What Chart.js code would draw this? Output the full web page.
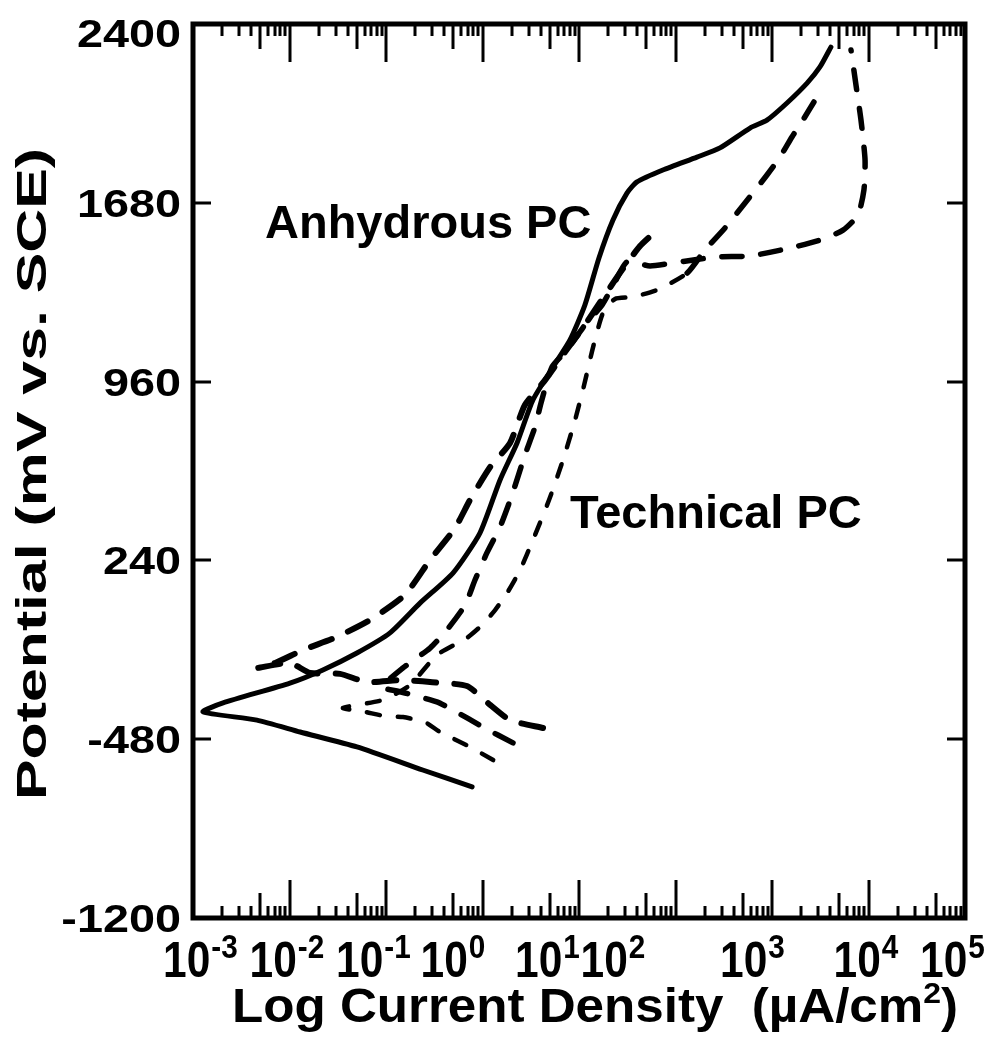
<!DOCTYPE html>
<html>
<head>
<meta charset="UTF-8">
<title>Anhydrous vs Technical PC polarization</title>
<script src="https://cdn.jsdelivr.net/npm/chart.js@4.4.1/dist/chart.umd.min.js"></script>
<style>
body { margin:0; background:#fff; }
#wrap { width:1008px; height:1043px; }
</style>
</head>
<body>
<div id="wrap"><canvas id="canvas" width="1008" height="1043"></canvas></div>
<script>
// current density (uA/cm2) and potential (mV vs SCE)
// each curve runs from the cathodic end, through the rest potential, up the anodic branch
var anhydrousI = [0.78, 0.24, 0.05, 0.0129, 0.0046, 0.00127, 0.00205, 0.0101, 0.0222, 0.05, 0.11, 0.225, 0.494, 0.94, 1.52, 2.28, 3.33, 5.38, 8.07, 11.5, 16.1, 22.5, 31.4, 39.9, 74, 167, 289, 592, 887, 1430, 2310, 3140, 4080];
var anhydrousE = [-672, -604, -511, -451, -403, -370, -334, -254, -201, -133, -52, 68, 189, 350, 564, 713, 886, 1019, 1128, 1268, 1458, 1611, 1719, 1764, 1812, 1864, 1901, 1981, 2013, 2082, 2162, 2227, 2307];

var techAI = [4.24, 1.93, 1.20, 0.69, 0.286, 0.14, 0.0635, 0.0334, 0.0163, 0.0101, 0.0047, 0.0071, 0.0138, 0.031, 0.0683, 0.157, 0.286, 0.519, 0.741, 1.20, 1.93, 2.75, 4.45, 7.16, 11.5, 18.6, 27.9, 42.9, 64.3];
var techAE = [-435, -403, -342, -266, -250, -242, -250, -217, -213, -173, -193, -173, -121, -68, 0, 101, 242, 370, 483, 616, 713, 866, 966, 1079, 1188, 1309, 1409, 1506, 1570];

var techBI = [2.07, 1.01, 0.494, 0.337, 0.19, 0.13, 0.091, 0.15, 0.286, 0.428, 0.659, 0.836, 1.11, 1.52, 2.02, 2.75, 3.50, 4.04, 5.25, 7.51, 11.5, 17.3, 23.6, 31.4, 54.5, 111, 269, 592, 1540, 3140, 5440, 7780, 8970, 9210, 8360, 7420, 6590];
var techBE = [-495, -431, -362, -330, -302, -286, -270, -193, -113, -40, 60, 161, 270, 375, 503, 664, 777, 874, 1019, 1087, 1188, 1268, 1361, 1442, 1426, 1442, 1462, 1466, 1498, 1530, 1570, 1631, 1732, 1852, 2013, 2154, 2295];

var techCI = [1.29, 0.741, 0.363, 0.253, 0.15, 0.0977, 0.0605, 0.0358, 0.093, 0.177, 0.337, 0.69, 0.99, 1.35, 1.80, 2.45, 3.33, 4.89, 6.82, 9.1, 11.3, 14.0, 17.7, 23.6, 36.3, 64.3, 132, 202, 326, 525, 887, 1210, 1610, 2090, 2720];
var techCE = [-564, -511, -451, -411, -391, -387, -370, -354, -322, -262, -141, -72, -20, 40, 109, 201, 322, 483, 644, 805, 946, 1099, 1236, 1293, 1301, 1329, 1397, 1490, 1579, 1679, 1792, 1864, 1945, 2013, 2086];

var xExponents = [-3, -2, -1, 0, 1, 2, 3, 4, 5];
var yTicks = [-1200, -480, 240, 960, 1680, 2400];

var FONT = "'Liberation Sans', Arial, Helvetica, sans-serif";

function pts(xs, ys) {
    return xs.map(function (x, i) { return { x: x, y: ys[i] }; });
}

function stretchText(ctx, txt, x, y, size, sx, align) {
    ctx.save();
    ctx.font = 'bold ' + size + 'px ' + FONT;
    ctx.textAlign = align || 'left';
    ctx.textBaseline = 'alphabetic';
    ctx.translate(x, y);
    ctx.scale(sx, 1);
    ctx.fillText(txt, 0, 0);
    ctx.restore();
}

var frame = {
    id: 'frame',
    afterDatasetsDraw: function (chart) {
        var ctx = chart.ctx, a = chart.chartArea;
        var xs = chart.scales.x, ys = chart.scales.y;
        ctx.save();
        ctx.strokeStyle = '#000';
        ctx.lineCap = 'butt';

        // log ticks, top and bottom, pointing in
        ctx.lineWidth = 3;
        for (var e = xExponents[0]; e < xExponents[xExponents.length - 1]; e++) {
            for (var m = 1; m <= 9; m++) {
                var px = Math.round(xs.getPixelForValue(m * Math.pow(10, e)));
                var len = m == 1 ? 38 : (m == 5 ? 25 : 12);
                ctx.beginPath();
                ctx.moveTo(px, a.top); ctx.lineTo(px, a.top + len);
                ctx.moveTo(px, a.bottom); ctx.lineTo(px, a.bottom - len);
                ctx.stroke();
            }
        }
        // potential ticks both sides
        yTicks.forEach(function (v) {
            var py = Math.round(ys.getPixelForValue(v));
            ctx.beginPath();
            ctx.moveTo(a.left, py); ctx.lineTo(a.left + 18, py);
            ctx.moveTo(a.right, py); ctx.lineTo(a.right - 18, py);
            ctx.stroke();
        });

        ctx.lineWidth = 5;
        ctx.strokeRect(a.left, a.top, a.right - a.left, a.bottom - a.top);
        ctx.restore();
    },
    afterDraw: function (chart) {
        var ctx = chart.ctx;
        var xs = chart.scales.x, ys = chart.scales.y;
        ctx.save();
        ctx.fillStyle = '#000';

        // y tick labels
        yTicks.forEach(function (v) {
            var py = Math.max(ys.getPixelForValue(v), 33);
            stretchText(ctx, String(v), 181, py + 14, 39, 1.2, 'right');
        });

        // x tick labels, 10 with superscript exponent (printed a bit left of the ticks)
        var shift = [-30, -40, -50, -62, -64, -95, -52, -35, -45];
        xExponents.forEach(function (e, i) {
            var px = xs.getPixelForValue(Math.pow(10, e)) + shift[i];
            ctx.font = 'bold 50px ' + FONT;
            var w = ctx.measureText('10').width * 0.85;
            stretchText(ctx, '10', px, 977, 50, 0.85, 'left');
            stretchText(ctx, e < 0 ? '-' + (-e) : String(e), px + w + 1, 958, 33, 0.9, 'left');
        });

        // x title
        ctx.font = 'bold 48px ' + FONT;
        var t1 = 'Log Current Density  (\u00b5A/cm';
        var w1 = ctx.measureText(t1).width;
        ctx.font = 'bold 30px ' + FONT;
        var w2 = ctx.measureText('2').width;
        ctx.font = 'bold 48px ' + FONT;
        var w3 = ctx.measureText(')').width;
        var sx = 726 / (w1 + w2 + w3);
        var x0 = 232;
        stretchText(ctx, t1, x0, 1022, 48, sx, 'left');
        stretchText(ctx, '2', x0 + w1 * sx, 1003, 30, sx, 'left');
        stretchText(ctx, ')', x0 + (w1 + w2) * sx, 1022, 48, sx, 'left');

        // y title, rotated and stretched along its length
        var yt = 'Potential (mV vs. SCE)';
        ctx.font = 'bold 42px ' + FONT;
        var wy = ctx.measureText(yt).width;
        ctx.save();
        ctx.translate(46, 474);
        ctx.rotate(-Math.PI / 2);
        ctx.scale(652 / wy, 1);
        ctx.textAlign = 'center';
        ctx.textBaseline = 'alphabetic';
        ctx.fillText(yt, 0, 0);
        ctx.restore();

        // curve labels, anchored in data units
        stretchText(ctx, 'Anhydrous PC', xs.getPixelForValue(0.00557), ys.getPixelForValue(1538), 47, 1, 'left');
        stretchText(ctx, 'Technical PC', xs.getPixelForValue(8.07), ys.getPixelForValue(370), 47, 1, 'left');
        ctx.restore();
    }
};

var lineBase = {
    borderColor: '#000',
    backgroundColor: '#000',
    pointRadius: 0,
    fill: false,
    tension: 0.2,
    borderCapStyle: 'round',
    borderJoinStyle: 'round'
};

var ds = [
    Object.assign({}, lineBase, { label: 'Anhydrous PC', data: pts(anhydrousI, anhydrousE), borderWidth: 5 }),
    Object.assign({}, lineBase, { label: 'Technical PC 1', data: pts(techAI, techAE), borderWidth: 6, borderDash: [22, 18] }),
    Object.assign({}, lineBase, { label: 'Technical PC 2', data: pts(techBI, techBE), borderWidth: 5.5, borderDash: [20, 19] }),
    Object.assign({}, lineBase, { label: 'Technical PC 3', data: pts(techCI, techCE), borderWidth: 4.5, borderDash: [13, 18],
        segment: {
            borderDash: function (c) { return c.p0DataIndex >= 26 ? [20, 19] : [13, 18]; },
            borderWidth: function (c) { return c.p0DataIndex >= 26 ? 5.5 : 4.5; }
        }
    })
];

new Chart(document.getElementById('canvas').getContext('2d'), {
    type: 'line',
    data: { datasets: ds },
    options: {
        responsive: false,
        devicePixelRatio: 1,
        animation: false,
        layout: { padding: { top: 24, right: 43, left: 0, bottom: 0 } },
        plugins: { legend: { display: false }, tooltip: { enabled: false } },
        scales: {
            x: {
                type: 'logarithmic',
                min: 0.001,
                max: 100000,
                ticks: { display: false },
                grid: { display: false },
                border: { display: false },
                afterFit: function (s) { s.height = 125; }
            },
            y: {
                type: 'linear',
                min: -1200,
                max: 2400,
                ticks: { display: false },
                grid: { display: false },
                border: { display: false },
                afterFit: function (s) { s.width = 193; }
            }
        }
    },
    plugins: [frame]
});
</script>
</body>
</html>
